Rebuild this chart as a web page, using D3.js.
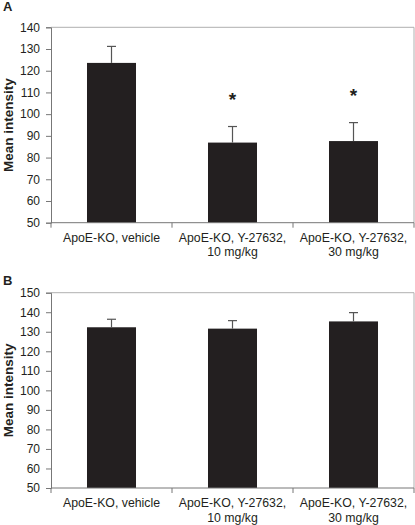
<!DOCTYPE html>
<html><head><meta charset="utf-8">
<script src="https://cdn.jsdelivr.net/npm/d3@7"></script>
<style>body{margin:0;background:#fff}svg{display:block}</style>
</head><body>
<svg id="c" width="415" height="525"></svg>
<script>
const categories = [["ApoE-KO, vehicle"], ["ApoE-KO, Y-27632,", "10 mg/kg"], ["ApoE-KO, Y-27632,", "30 mg/kg"]];
const meansA = [123.6, 86.9, 87.6];
const errA = [7.6, 7.4, 8.5];
const sigA = [false, true, true];
const ticksA = [50, 60, 70, 80, 90, 100, 110, 120, 130, 140];
const meansB = [132.3, 131.6, 135.3];
const errB = [4.1, 4.1, 4.5];
const sigB = [false, false, false];
const ticksB = [50, 60, 70, 80, 90, 100, 110, 120, 130, 140, 150];

const svg = d3.select("#c");
const font = "Liberation Sans, Arial, sans-serif";

function panel(label, labelY, means, errs, sig, ticks, top, bottom) {
  const left = 51, right = 414;
  const g = svg.append("g");
  const x = d3.scaleBand().domain(d3.range(categories.length)).range([left, right]).padding(0);
  const y = d3.scaleLinear().domain([ticks[0], ticks[ticks.length - 1]]).range([bottom, top]);
  const bw = x.bandwidth() * 0.405;

  g.append("path").attr("d", `M${left},${top}H${right}V${bottom}`)
    .attr("fill", "none").attr("stroke", "#b0b0b0").attr("stroke-width", 1);

  g.selectAll("rect.bar").data(means).join("rect")
    .attr("x", (d, i) => x(i) + x.bandwidth() / 2 - bw / 2)
    .attr("y", d => y(d)).attr("width", bw).attr("height", d => y(ticks[0]) - y(d))
    .attr("fill", "#231f20");

  means.forEach((m, i) => {
    const cx = x(i) + x.bandwidth() / 2;
    g.append("line").attr("x1", cx).attr("x2", cx).attr("y1", y(m)).attr("y2", y(m + errs[i]))
      .attr("stroke", "#555").attr("stroke-width", 1.2);
    g.append("line").attr("x1", cx - 4.5).attr("x2", cx + 4.5).attr("y1", y(m + errs[i])).attr("y2", y(m + errs[i]))
      .attr("stroke", "#555").attr("stroke-width", 1.2);
    if (sig[i]) {
      g.append("text").attr("x", cx).attr("y", y(m + errs[i]) - 21).attr("text-anchor", "middle")
        .attr("font-family", font).attr("font-weight", "bold").attr("font-size", 19).attr("fill", "#231f20").text("*");
    }
  });

  const ya = g.append("g").attr("transform", `translate(${left},0)`)
    .call(d3.axisLeft(y).tickValues(ticks).tickSize(5).tickPadding(6));
  ya.selectAll("path,line").attr("stroke", "#777");
  ya.selectAll("text").attr("font-family", font).attr("font-size", 12).attr("fill", "#231f20");

  const xa = g.append("g").attr("transform", `translate(0,${bottom})`);
  xa.append("path").attr("d", `M${left},0H${right}`).attr("stroke", "#777").attr("fill", "none");
  const bounds = d3.range(categories.length).map(i => x(i)).concat([right]);
  xa.selectAll("line").data(bounds).join("line").attr("x1", d => d).attr("x2", d => d)
    .attr("y1", 0).attr("y2", 5).attr("stroke", "#777");
  categories.forEach((lines, i) => {
    const t = xa.append("text").attr("x", x(i) + x.bandwidth() / 2).attr("y", 19)
      .attr("text-anchor", "middle").attr("font-family", font).attr("font-size", 12.3).attr("fill", "#231f20");
    lines.forEach((l, j) => t.append("tspan").attr("x", x(i) + x.bandwidth() / 2).attr("dy", j ? 14.5 : 0).text(l));
  });

  g.append("text").attr("transform", `translate(13,${(top + bottom) / 2}) rotate(-90)`)
    .attr("text-anchor", "middle").attr("font-family", font).attr("font-weight", "bold")
    .attr("font-size", 13.5).attr("fill", "#231f20").text("Mean intensity");

  g.append("text").attr("x", 3).attr("y", labelY).attr("font-family", font).attr("font-weight", "bold")
    .attr("font-size", 13).attr("fill", "#231f20").text(label);
}

panel("A", 11, meansA, errA, sigA, ticksA, 27.3, 222.7);
panel("B", 285, meansB, errB, sigB, ticksB, 292.7, 488);
</script>
</body></html>
